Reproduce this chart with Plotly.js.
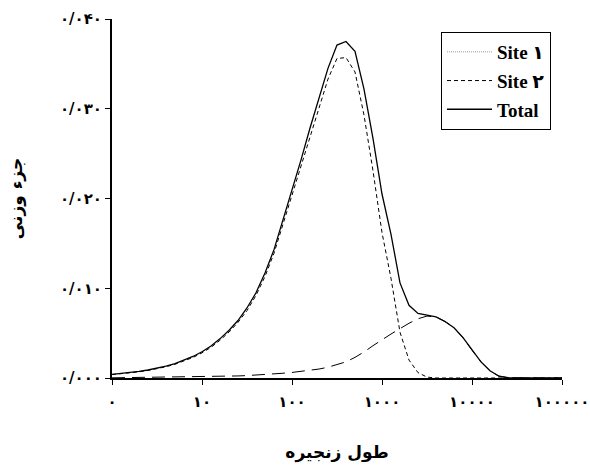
<!DOCTYPE html>
<html>
<head>
<meta charset="utf-8">
<script src="https://cdn.plot.ly/plotly-3.0.1.min.js"></script>
<style>html,body{margin:0;padding:0;background:#fff;}#chart{width:590px;height:470px;}</style>
</head>
<body>
<div id="chart"></div>
<script>
// chain length (x, log scale)
var chainLength = [1, 1.26, 1.58, 2, 2.51, 3.16, 3.98, 5.01, 6.31, 7.94, 10, 12.6, 15.8, 20, 25.1, 31.6, 39.8, 50.1, 63.1, 79.4, 100, 126, 158, 200, 251, 316, 398, 501, 631, 794, 1000, 1259, 1585, 1995, 2512, 3162, 3981, 5012, 6310, 7943, 10000, 12589, 15849, 19953, 25119, 31623, 39811, 63096, 100000];
// weight fraction, Site 1 (high chain length component)
var site1 = [0.00002, 0.00003, 0.00003, 0.00004, 0.00005, 0.00006, 0.00007, 0.00008, 0.0001, 0.00011, 0.00013, 0.00015, 0.00017, 0.0002, 0.00023, 0.00027, 0.00032, 0.00038, 0.00045, 0.00053, 0.00062, 0.00073, 0.00086, 0.0010, 0.0012, 0.0015, 0.0018, 0.0023, 0.0029, 0.0036, 0.0043, 0.0049, 0.0055, 0.0061, 0.0066, 0.0069, 0.0068, 0.0063, 0.0056, 0.0045, 0.0031, 0.0018, 0.0008, 0.0002, 0.00003, 0, 0, 0, 0];
// weight fraction, Site 2 (main peak)
var site2 = [0.00038, 0.00046, 0.00057, 0.00069, 0.00084, 0.00102, 0.00125, 0.00153, 0.00187, 0.00229, 0.0028, 0.00342, 0.00419, 0.00512, 0.0062, 0.0075, 0.0092, 0.0113, 0.0139, 0.0171, 0.0205, 0.0236, 0.0269, 0.0302, 0.0333, 0.0356, 0.0357, 0.0341, 0.0293, 0.0231, 0.0162, 0.0111, 0.0051, 0.0020, 0.0006, 0.0001, 0, 0, 0, 0, 0, 0, 0, 0, 0, 0, 0, 0, 0];
// weight fraction, Total
var total = [0.0004, 0.00049, 0.0006, 0.00073, 0.00089, 0.00108, 0.00132, 0.00161, 0.00197, 0.0024, 0.00293, 0.00357, 0.00436, 0.00532, 0.0064, 0.0078, 0.0095, 0.0117, 0.0143, 0.0176, 0.0211, 0.0243, 0.0278, 0.0312, 0.0345, 0.0371, 0.0375, 0.0364, 0.0322, 0.0267, 0.0205, 0.0160, 0.0106, 0.0081, 0.0072, 0.0070, 0.0068, 0.0063, 0.0056, 0.0045, 0.0031, 0.0018, 0.0008, 0.0002, 0.00003, 0, 0, 0, 0];

var xTickVals = [1, 10, 100, 1000, 10000, 100000];
var xTickText = ['۰', '۱۰', '۱۰۰', '۱۰۰۰', '۱۰۰۰۰', '۱۰۰۰۰۰'];
var yTickVals = [0, 0.01, 0.02, 0.03, 0.04];
var yTickText = ['۰/۰۰۰', '۰/۰۱۰', '۰/۰۲۰', '۰/۰۳۰', '۰/۰۴۰'];
var names = ['Site ۱', 'Site ۲', 'Total'];

var serif = '"Liberation Serif", "DejaVu Sans", serif';
var arab = '"DejaVu Sans", sans-serif';

var traces = [
  {x: chainLength, y: site1, mode: 'lines', showlegend: false, hoverinfo: 'skip',
   line: {color: '#000', width: 1, dash: '13px,7px'}},
  {x: [null], y: [null], mode: 'lines', name: names[0], legendgroup: 'a', legendrank: 1,
   line: {color: '#999', width: 1, dash: '1px,1px'}},
  {x: chainLength, y: site2, mode: 'lines', name: names[1], legendgroup: 'b', legendrank: 2,
   line: {color: '#000', width: 1, dash: '4px,3px'}},
  {x: chainLength, y: total, mode: 'lines', name: names[2], legendgroup: 'c', legendrank: 3,
   line: {color: '#000', width: 1.3}}
];

var layout = {
  width: 590, height: 470,
  margin: {l: 112, r: 28, t: 19, b: 92},
  paper_bgcolor: '#fff', plot_bgcolor: '#fff',
  font: {family: serif, color: '#000', size: 13},
  showlegend: true,
  legend: {
    xanchor: 'left', yanchor: 'top',
    bordercolor: '#000', borderwidth: 1, bgcolor: '#fff',
    traceorder: 'grouped', tracegroupgap: 1, itemwidth: 45,
    font: {family: serif, size: 19, weight: 'bold'}
  },
  xaxis: {
    type: 'log', range: [0, 5],
    tickvals: xTickVals, ticktext: xTickText,
    ticks: 'outside', ticklen: 5, tickwidth: 1, tickcolor: '#000',
    showline: true, linecolor: '#000', linewidth: 2,
    showgrid: false, zeroline: false, ticklabelstandoff: 4,
    tickfont: {family: arab, size: 15, weight: 'bold'},
    title: {text: 'طول زنجیره', standoff: 36,
            font: {family: arab, size: 17, weight: 'bold'}}
  },
  yaxis: {
    range: [0, 0.04],
    tickvals: yTickVals, ticktext: yTickText,
    ticks: 'outside', ticklen: 5, tickwidth: 1, tickcolor: '#000',
    showline: true, linecolor: '#000', linewidth: 2,
    showgrid: false, zeroline: false,
    tickfont: {family: arab, size: 15, weight: 'bold'},
    title: {text: 'جزء وزنی', standoff: 33,
            font: {family: arab, size: 17, weight: 'bold'}}
  }
};
// legend position in paper fraction
layout.legend.x = (441 - 112) / 450;
layout.legend.y = 1 - (32 - 19) / 359;

Plotly.newPlot('chart', traces, layout, {displayModeBar: false, staticPlot: true});
</script>
</body>
</html>
